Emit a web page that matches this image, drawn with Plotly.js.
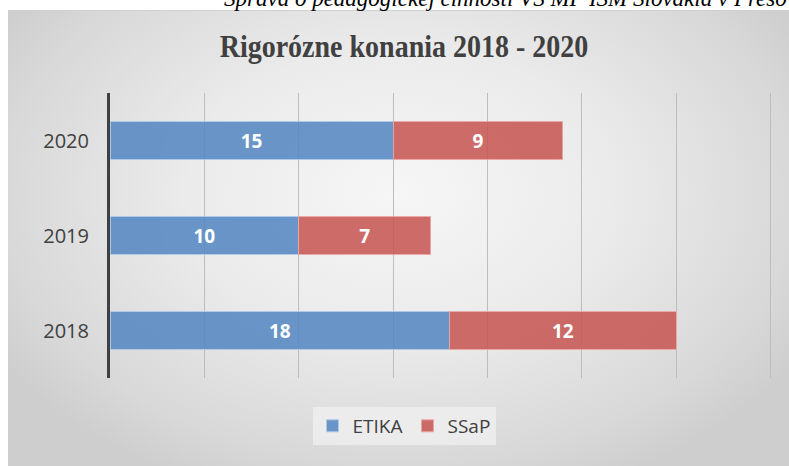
<!DOCTYPE html>
<html><head><meta charset="utf-8">
<script src="https://cdn.plot.ly/plotly-3.0.1.min.js"></script>
<style>
html,body{margin:0;padding:0;background:#fff;}
#wrap{position:relative;width:789px;height:466px;overflow:hidden;background:#fff;}
#panel{position:absolute;left:8px;top:10px;width:781px;height:456px;border-top:1px solid #d0d0d0;
background:radial-gradient(ellipse 60% 70% at 50% 40%, #f6f6f6 0%, #ebebeb 45%, #d8d8d8 85%, #cecece 100%);}
#chart{position:absolute;left:0;top:0;width:789px;height:466px;}
</style></head>
<body><div id="wrap"><div id="panel"></div><div id="chart"></div></div>
<script>
const categories = ["2018", "2019", "2020"];
const etika = [18, 10, 15];
const ssap = [12, 7, 9];
const seriesNames = ["ETIKA", "SSaP"];

const common = {type:'bar', orientation:'h', y:categories, textposition:'inside', insidetextanchor:'middle',
  textfont:{family:'Open Sans', size:19, color:'#ffffff', weight:'bold'}, hoverinfo:'none'};
const data = [
  Object.assign({}, common, {name:seriesNames[0], x:etika, text:etika.map(String),
    marker:{color:'rgba(85,135,195,0.88)', line:{color:'rgba(175,200,230,0.95)', width:1}}}),
  Object.assign({}, common, {name:seriesNames[1], x:ssap, text:ssap.map(String),
    marker:{color:'rgba(198,88,84,0.88)', line:{color:'rgba(232,165,163,0.95)', width:1}}})
];
const xMax = 35.3;
const rM = Math.round(789 - 110 - 660*xMax/35);
const pw = 789-110-rM, ph = 466-93-88;
const layout = {
  width:789, height:466, barmode:'stack', bargap:0.61,
  paper_bgcolor:'rgba(0,0,0,0)', plot_bgcolor:'rgba(0,0,0,0)',
  margin:{l:110, r:rM, t:93, b:88},
  showlegend:true,
  legend:{orientation:'h', x:(404-110)/pw, xanchor:'center', y:-(407-378)/ph, yanchor:'top',
    bgcolor:'rgba(236,236,236,0.95)', font:{family:'Open Sans', size:19, color:'#404040'},
    traceorder:'normal', itemwidth:30, tracegroupgap:0},
  title:{text:'<b>Rigorózne konania 2018 - 2020</b>', x:(404)/789, xanchor:'center', y:1-46/466, yanchor:'middle',
    font:{family:'Liberation Serif', size:28, color:'#404040'}},
  xaxis:{range:[0,xMax], dtick:5, showticklabels:false, showgrid:true, gridcolor:'#bdbdbd', gridwidth:1,
    zeroline:false, showline:false, fixedrange:true},
  yaxis:{type:'category', categoryorder:'array', categoryarray:categories, range:[-0.5,2.5], showline:true, linecolor:'#404040', linewidth:3,
    ticks:'', ticklabelstandoff:14, tickfont:{family:'Open Sans', size:20, color:'#404040'}, showgrid:false, zeroline:false},
  annotations:[{text:'Správa o pedagogickej činnosti VŠ MP ISM Slovakia v Prešove', xref:'paper', yref:'paper',
    x:(222-110)/pw, xanchor:'left', y:(466-88+2)/ph, yanchor:'middle', showarrow:false,
    font:{family:'Liberation Serif', size:23, color:'#000', style:'italic'}}]
};
Plotly.newPlot('chart', data, layout, {staticPlot:true}).then(function(gd){
  const t = gd.querySelector('.gtitle');
  if (t) {
    const bb = t.getBBox();
    const cy = bb.y + bb.height/2;
    t.setAttribute('transform', 'translate(0,' + (cy*(1-1.12)) + ') scale(1,1.12)');
  }
});
</script></body></html>
